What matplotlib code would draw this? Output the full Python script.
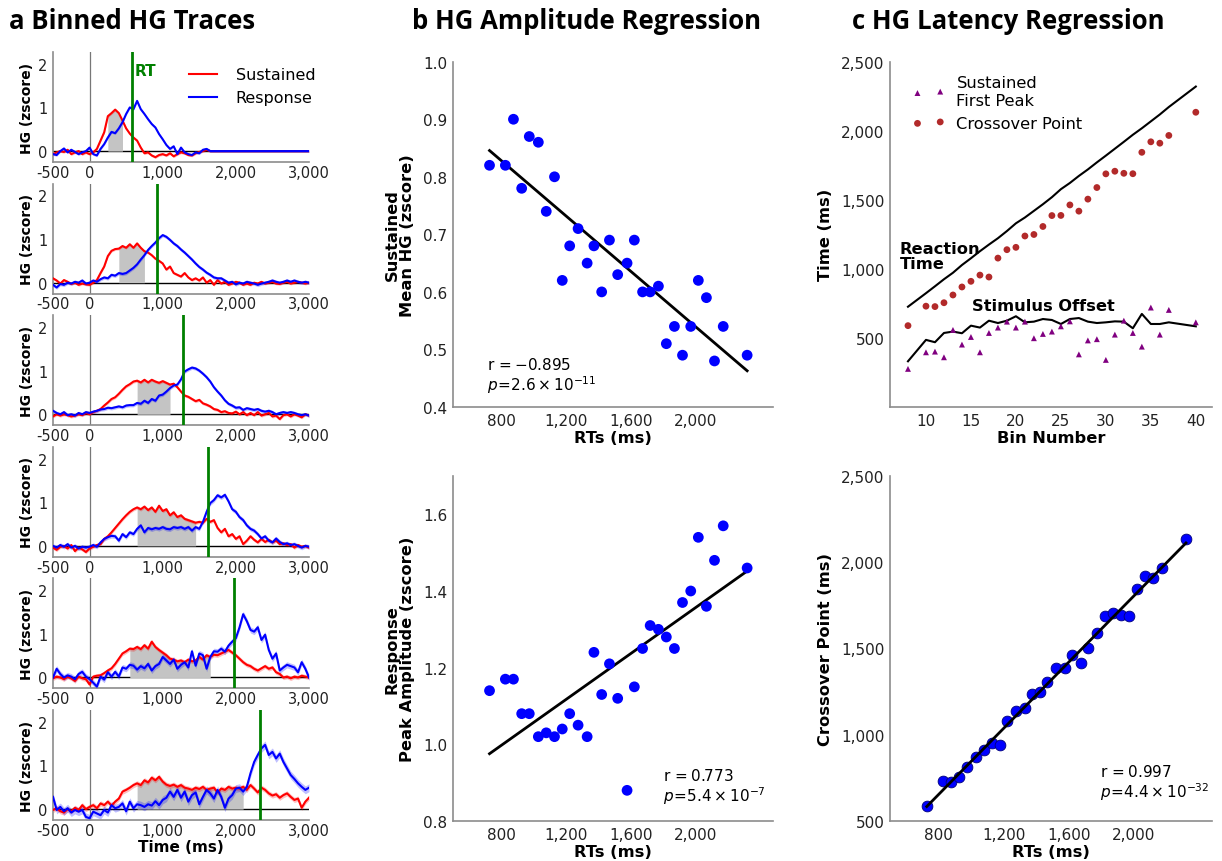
import numpy as np
import matplotlib
matplotlib.use("Agg")
import matplotlib.pyplot as plt
from matplotlib.ticker import FuncFormatter, MultipleLocator

# ---------------- data: panel a (binned HG traces, 50 ms steps) ----------------
t_ms = np.arange(-500, 3001, 50)

sus1 = [-0.07, -0.03, 0.0, -0.02, 0.03, -0.07, -0.03, 0.0, -0.07, -0.03,
        -0.07, -0.03, 0.05, 0.24, 0.43, 0.8, 0.87, 0.95, 0.87, 0.7,
        0.52, 0.4, 0.31, 0.24, 0.08, -0.05, -0.03, -0.1, -0.14, -0.09,
        -0.07, -0.1, -0.05, -0.12, -0.07, -0.03, -0.05, -0.09, -0.1, -0.05,
        -0.02, 0.0, 0.03, 0.0, 0.0, 0.0, 0.0, 0.0, 0.0, 0.0,
        0.0, 0.0, 0.0, 0.0, 0.0, 0.0, 0.0, 0.0, 0.0, 0.0,
        0.0, 0.0, 0.0, 0.0, 0.0, 0.0, 0.0, 0.0, 0.0, 0.0,
        0.0]
resp1 = [-0.07, -0.09, 0.0, 0.06, -0.03, 0.03, -0.02, -0.07, -0.03, 0.0,
         0.08, -0.07, -0.1, 0.05, 0.16, 0.31, 0.44, 0.41, 0.52, 0.66,
         0.85, 1.0, 0.96, 1.15, 0.96, 0.85, 0.73, 0.62, 0.54, 0.39,
         0.27, 0.14, 0.05, 0.11, -0.07, 0.08, -0.03, -0.07, -0.09, -0.03,
         -0.05, 0.03, 0.05, 0.0, 0.0, 0.0, 0.0, 0.0, 0.0, 0.0,
         0.0, 0.0, 0.0, 0.0, 0.0, 0.0, 0.0, 0.0, 0.0, 0.0,
         0.0, 0.0, 0.0, 0.0, 0.0, 0.0, 0.0, 0.0, 0.0, 0.0,
         0.0]
sus2 = [0.1, 0.05, -0.02, 0.06, 0.02, -0.03, 0.0, -0.05, -0.02, -0.04,
        -0.05, 0.0, 0.06, 0.22, 0.37, 0.61, 0.73, 0.77, 0.78, 0.84,
        0.8, 0.88, 0.8, 0.9, 0.8, 0.72, 0.69, 0.63, 0.55, 0.5,
        0.44, 0.3, 0.37, 0.22, 0.18, 0.14, 0.22, 0.12, 0.06, 0.1,
        0.05, 0.12, 0.0, 0.06, -0.05, 0.06, -0.02, 0.02, -0.05, -0.02,
        0.02, 0.0, -0.05, -0.02, -0.05, 0.0, -0.02, 0.02, -0.02, 0.0,
        0.02, -0.02, -0.03, 0.0, 0.02, -0.02, 0.0, 0.02, 0.0, -0.02,
        0.0]
resp2 = [-0.05, -0.11, -0.03, -0.05, 0.0, -0.02, 0.02, 0.0, 0.05, -0.02,
         0.0, 0.05, 0.02, 0.08, 0.12, 0.1, 0.18, 0.16, 0.22, 0.2,
         0.22, 0.28, 0.34, 0.42, 0.53, 0.63, 0.75, 0.84, 0.92, 1.02,
         1.09, 1.05, 0.98, 0.9, 0.84, 0.76, 0.69, 0.61, 0.53, 0.44,
         0.36, 0.3, 0.23, 0.18, 0.12, 0.1, 0.1, 0.05, 0.0, 0.02,
         -0.04, 0.0, -0.02, 0.02, 0.0, -0.02, -0.05, -0.02, 0.0, 0.02,
         0.05, 0.02, 0.0, 0.02, 0.05, 0.02, 0.05, 0.02, 0.0, 0.02,
         0.0]
sus3 = [-0.05, 0.0, -0.03, 0.0, -0.02, -0.05, -0.03, 0.0, -0.02, 0.03,
        0.0, 0.05, 0.08, 0.12, 0.2, 0.27, 0.35, 0.39, 0.47, 0.56,
        0.64, 0.69, 0.75, 0.77, 0.73, 0.79, 0.73, 0.79, 0.75, 0.72,
        0.76, 0.72, 0.68, 0.7, 0.62, 0.52, 0.43, 0.4, 0.35, 0.3,
        0.33, 0.25, 0.22, 0.18, 0.12, 0.1, 0.05, 0.07, 0.03, 0.02,
        0.06, 0.0, 0.05, -0.02, 0.03, -0.02, 0.05, -0.03, 0.0, 0.03,
        -0.05, -0.03, -0.11, -0.02, 0.0, -0.05, 0.0, -0.03, -0.07, 0.0,
        -0.03]
resp3 = [0.08, 0.03, 0.0, 0.05, -0.02, 0.0, -0.03, 0.03, 0.0, 0.05,
         0.03, 0.06, 0.08, 0.11, 0.12, 0.15, 0.14, 0.16, 0.18, 0.16,
         0.2, 0.21, 0.21, 0.26, 0.24, 0.31, 0.26, 0.35, 0.31, 0.43,
         0.45, 0.52, 0.6, 0.66, 0.68, 0.8, 0.98, 1.03, 1.07, 1.05,
         1.0, 0.93, 0.85, 0.75, 0.62, 0.52, 0.43, 0.32, 0.24, 0.2,
         0.15, 0.16, 0.1, 0.14, 0.12, 0.1, 0.12, 0.08, 0.06, 0.08,
         0.05, 0.0, 0.03, 0.05, 0.03, 0.05, 0.03, 0.0, -0.02, 0.0,
         -0.03]
sus4 = [-0.04, -0.09, -0.02, 0.0, -0.06, 0.02, -0.12, -0.04, -0.08, -0.14,
        -0.06, -0.02, 0.02, 0.04, 0.16, 0.22, 0.31, 0.41, 0.51, 0.61,
        0.7, 0.78, 0.84, 0.88, 0.84, 0.9, 0.82, 0.88, 0.78, 0.92,
        0.8, 0.84, 0.7, 0.77, 0.66, 0.7, 0.62, 0.59, 0.56, 0.53,
        0.55, 0.53, 0.62, 0.55, 0.59, 0.41, 0.31, 0.39, 0.22, 0.27,
        0.16, 0.22, 0.04, 0.12, 0.22, 0.14, 0.08, 0.16, 0.09, 0.14,
        0.08, 0.12, 0.04, 0.06, 0.02, 0.04, -0.04, 0.02, -0.02, 0.0,
        -0.04]
resp4 = [0.0, -0.04, 0.02, -0.02, 0.04, -0.04, 0.0, -0.06, -0.02, -0.04,
         -0.02, 0.02, -0.02, 0.08, 0.16, 0.2, 0.23, 0.22, 0.12, 0.27,
         0.2, 0.31, 0.27, 0.39, 0.47, 0.31, 0.41, 0.38, 0.41, 0.39,
         0.43, 0.39, 0.38, 0.43, 0.41, 0.43, 0.39, 0.43, 0.35, 0.43,
         0.39, 0.55, 0.78, 0.98, 1.05, 1.16, 1.11, 1.17, 1.02, 0.84,
         0.78, 0.66, 0.59, 0.47, 0.39, 0.35, 0.27, 0.17, 0.22, 0.12,
         0.08, 0.17, 0.09, 0.04, 0.06, 0.02, 0.04, 0.0, -0.04, 0.0,
         -0.02]
sus5 = [-0.02, 0.02, 0.0, -0.04, 0.02, -0.02, -0.08, 0.02, -0.02, -0.04,
        -0.16, 0.02, 0.04, 0.05, 0.1, 0.16, 0.21, 0.31, 0.43, 0.55,
        0.6, 0.66, 0.65, 0.7, 0.65, 0.74, 0.66, 0.82, 0.7, 0.63,
        0.57, 0.51, 0.43, 0.41, 0.37, 0.39, 0.35, 0.41, 0.37, 0.39,
        0.47, 0.41, 0.51, 0.47, 0.52, 0.51, 0.55, 0.59, 0.63, 0.57,
        0.51, 0.43, 0.35, 0.29, 0.26, 0.2, 0.16, 0.21, 0.26, 0.2,
        0.23, 0.12, 0.08, 0.0, 0.02, -0.02, 0.02, 0.0, 0.04, 0.02,
        0.0]
resp5 = [0.0, 0.2, 0.08, 0.0, 0.05, 0.02, -0.04, 0.08, 0.13, 0.02,
         -0.04, -0.12, -0.21, 0.02, -0.05, 0.12, 0.02, 0.13, 0.02, 0.23,
         0.2, 0.29, 0.27, 0.18, 0.26, 0.21, 0.31, 0.16, 0.26, 0.31,
         0.47, 0.39, 0.31, 0.41, 0.2, 0.29, 0.35, 0.23, 0.6, 0.27,
         0.55, 0.51, 0.2, 0.47, 0.6, 0.59, 0.66, 0.59, 0.73, 0.82,
         0.9, 1.15, 1.45, 1.29, 1.09, 1.05, 1.15, 0.86, 0.98, 0.63,
         0.43, 0.55, 0.16, 0.23, 0.29, 0.26, 0.23, 0.12, 0.35, 0.2,
         0.0]
sus6 = [-0.02, 0.02, -0.05, -0.08, 0.0, -0.05, 0.03, -0.02, 0.09, 0.0,
        0.05, 0.09, 0.02, 0.13, 0.09, 0.17, 0.08, 0.17, 0.24, 0.4,
        0.44, 0.49, 0.55, 0.59, 0.55, 0.66, 0.61, 0.72, 0.66, 0.74,
        0.63, 0.56, 0.53, 0.56, 0.51, 0.55, 0.49, 0.47, 0.44, 0.49,
        0.46, 0.51, 0.44, 0.47, 0.49, 0.38, 0.47, 0.44, 0.51, 0.47,
        0.49, 0.47, 0.51, 0.44, 0.55, 0.47, 0.38, 0.49, 0.44, 0.36,
        0.31, 0.34, 0.26, 0.32, 0.36, 0.28, 0.21, 0.24, 0.03, 0.17,
        0.26]
resp6 = [0.28, -0.02, 0.05, -0.05, 0.02, -0.08, -0.02, -0.06, -0.02, -0.18,
         -0.21, -0.06, -0.1, -0.14, -0.02, -0.08, 0.09, 0.02, 0.05, 0.13,
         -0.05, 0.17, 0.02, 0.11, 0.09, 0.05, 0.11, 0.08, 0.18, 0.09,
         0.21, 0.26, 0.4, 0.28, 0.44, 0.26, 0.4, 0.17, 0.32, 0.38,
         0.11, 0.28, 0.44, 0.36, 0.24, 0.44, 0.28, 0.03, 0.24, 0.32,
         0.47, 0.49, 0.4, 0.51, 0.82, 1.08, 1.24, 1.39, 1.47, 1.24,
         1.31, 1.16, 1.27, 1.08, 0.93, 0.78, 0.69, 0.59, 0.51, 0.44,
         0.49]

sustained_traces = [sus1, sus2, sus3, sus4, sus5, sus6]
response_traces = [resp1, resp2, resp3, resp4, resp5, resp6]
sus_sem = [0.03, 0.03, 0.035, 0.04, 0.05, 0.06]
resp_sem = [0.03, 0.04, 0.04, 0.05, 0.07, 0.09]
bin_rt = [579, 920, 1280, 1625, 1980, 2326]
shade_start = [250, 375, 625, 625, 550, 625]
shade_end = [450, 760, 1140, 1465, 1690, 2135]

# ---------------- data: panels b and c (30 RT bins) ----------------
bin_number = [8, 10, 11, 12, 13, 14, 15, 16, 17, 18, 19, 20, 21, 22, 23,
              24, 25, 26, 27, 28, 29, 30, 31, 32, 33, 34, 35, 36, 37, 40]
rts = [726, 824, 874, 925, 972, 1028, 1077, 1128, 1176, 1222, 1274, 1330, 1372, 1420, 1468,
       1519, 1577, 1622, 1673, 1720, 1771, 1820, 1870, 1920, 1971, 2018, 2068, 2118, 2172, 2320]
sustained_mean = [0.82, 0.82, 0.90, 0.78, 0.87, 0.86, 0.74, 0.80, 0.62, 0.68, 0.71, 0.65, 0.68, 0.60, 0.69,
                  0.63, 0.65, 0.69, 0.60, 0.60, 0.61, 0.51, 0.54, 0.49, 0.54, 0.62, 0.59, 0.48, 0.54, 0.49]
response_peak = [1.14, 1.17, 1.17, 1.08, 1.08, 1.02, 1.03, 1.02, 1.04, 1.08, 1.05, 1.02, 1.24, 1.13, 1.21,
                 1.12, 0.88, 1.15, 1.25, 1.31, 1.30, 1.28, 1.25, 1.37, 1.40, 1.54, 1.36, 1.48, 1.57, 1.46]
crossover = [589, 730, 727, 755, 811, 869, 910, 955, 941, 1078, 1139, 1156, 1238, 1249, 1307,
             1386, 1387, 1463, 1418, 1505, 1589, 1688, 1707, 1692, 1689, 1844, 1920, 1910, 1966, 2134]
first_peak = [276, 396, 401, 360, 558, 452, 507, 396, 536, 575, 618, 575, 618, 498, 529,
              546, 584, 620, 381, 482, 491, 341, 524, 625, 536, 437, 720, 524, 703, 613]
stim_offset = [331, 486, 469, 536, 546, 534, 589, 575, 625, 608, 625, 657, 613, 618, 637,
               630, 601, 637, 644, 618, 608, 613, 620, 618, 570, 674, 601, 601, 613, 584]

# ---------------- figure setup ----------------
W, H = 1222, 862
fig = plt.figure(figsize=(W / 100, H / 100), dpi=100)
spine_gray = "#8c8c8c"
label_size = 11.7
comma_fmt = FuncFormatter(lambda v, pos: f"{int(round(v)):,}")


def px_axes(left, top, right, bottom):
    # axes placed by pixel edges of the reference image
    return fig.add_axes([left / W, 1 - bottom / H, (right - left) / W, (bottom - top) / H])


def clean_axes(ax, size):
    for side in ["top", "right"]:
        ax.spines[side].set_visible(False)
    for side in ["left", "bottom"]:
        ax.spines[side].set_color(spine_gray)
        ax.spines[side].set_linewidth(1.2)
    ax.tick_params(length=0, pad=4, labelsize=size, colors="#222222")


# ---------------- panel a ----------------
for i in range(6):
    top = 53 + 131.6 * i
    ax = px_axes(53, top, 309, top + 110)
    sus = np.array(sustained_traces[i])
    resp = np.array(response_traces[i])

    ax.axhline(0, color="black", lw=1.0, zorder=1)
    ax.axvline(0, color="#777777", lw=0.9, zorder=1)
    mask = (t_ms >= shade_start[i]) & (t_ms <= shade_end[i])
    ax.fill_between(t_ms, 0, sus, where=mask, color="#c4c4c4", lw=0, zorder=1.5)

    ax.fill_between(t_ms, sus - sus_sem[i], sus + sus_sem[i], color="#ff0000", alpha=0.25, lw=0, zorder=2)
    ax.fill_between(t_ms, resp - resp_sem[i], resp + resp_sem[i], color="#0000ff", alpha=0.25, lw=0, zorder=2)
    ax.plot(t_ms, sus, color="#ff0000", lw=1.5, label="Sustained", zorder=3)
    ax.plot(t_ms, resp, color="#0000ff", lw=1.5, label="Response", zorder=3)
    ax.axvline(bin_rt[i], color="#008000", lw=2.0, zorder=4)

    ax.set_xlim(-500, 3000)
    ax.set_ylim(-0.25, 2.27)
    ax.set_xticks([-500, 0, 1000, 2000, 3000])
    ax.set_yticks([0, 1, 2])
    ax.xaxis.set_major_formatter(comma_fmt)
    clean_axes(ax, 10.5)
    ax.tick_params(axis="x", pad=2)
    ax.set_ylabel("HG (zscore)", fontsize=10, fontweight="bold", labelpad=3)

    if i == 0:
        ax.text(bin_rt[i] + 40, 1.85, "RT", color="#008000", fontsize=11,
                fontweight="bold", va="center")
        ax.legend(loc="upper right", bbox_to_anchor=(1.05, 0.92), frameon=False,
                  fontsize=11.5, handlelength=1.7, handletextpad=1.2, labelspacing=0.5,
                  borderaxespad=0)
    if i == 5:
        ax.set_xlabel("Time (ms)", fontsize=11, fontweight="bold", labelpad=1)

# ---------------- panel b ----------------
ax_b1 = px_axes(453, 62.7, 773, 408)
ax_b1.scatter(rts, sustained_mean, s=60, color="#0000ff", edgecolors="none", zorder=3)
k, b0 = np.polyfit(rts, sustained_mean, 1)
xx = np.array([min(rts), max(rts)])
ax_b1.plot(xx, k * xx + b0, color="black", lw=2)
ax_b1.set_xlim(500, 2480)
ax_b1.set_ylim(0.4, 1.0)
ax_b1.set_xticks([800, 1200, 1600, 2000])
ax_b1.xaxis.set_major_formatter(comma_fmt)
ax_b1.yaxis.set_major_locator(MultipleLocator(0.1))
ax_b1.yaxis.set_major_formatter(FuncFormatter(lambda v, pos: f"{v:.1f}"))
clean_axes(ax_b1, 11)
ax_b1.set_xlabel("RTs (ms)", fontsize=label_size, fontweight="bold", labelpad=2)
ax_b1.set_ylabel("Sustained\nMean HG (zscore)", fontsize=label_size, fontweight="bold",
                 labelpad=6, linespacing=1.0)
ax_b1.text(710, 0.455, "r$\\,=-0.895$\n$p\\!=\\!2.6\\times10^{-11}$", fontsize=11,
           va="center", linespacing=1.1)

ax_b2 = px_axes(453, 477, 773, 822)
ax_b2.scatter(rts, response_peak, s=60, color="#0000ff", edgecolors="none", zorder=3)
k, b0 = np.polyfit(rts, response_peak, 1)
ax_b2.plot(xx, k * xx + b0, color="black", lw=2)
ax_b2.set_xlim(500, 2480)
ax_b2.set_ylim(0.8, 1.7)
ax_b2.set_xticks([800, 1200, 1600, 2000])
ax_b2.set_yticks([0.8, 1.0, 1.2, 1.4, 1.6])
ax_b2.xaxis.set_major_formatter(comma_fmt)
ax_b2.yaxis.set_major_formatter(FuncFormatter(lambda v, pos: f"{v:.1f}"))
clean_axes(ax_b2, 11)
ax_b2.set_xlabel("RTs (ms)", fontsize=label_size, fontweight="bold", labelpad=2)
ax_b2.set_ylabel("Response\nPeak Amplitude (zscore)", fontsize=label_size, fontweight="bold",
                 labelpad=6, linespacing=1.0)
ax_b2.text(1797, 0.89, "r$\\,=0.773$\n$p\\!=\\!5.4\\times10^{-7}$", fontsize=11,
           va="center", linespacing=1.1)

# ---------------- panel c ----------------
ax_c1 = px_axes(890, 62.7, 1212, 408)
ax_c1.plot(bin_number, rts, color="black", lw=1.5)
ax_c1.plot(bin_number, stim_offset, color="black", lw=1.5)
ax_c1.scatter(bin_number, first_peak, s=18, marker="^", color="#800080",
              edgecolors="none", label="Sustained\nFirst Peak", zorder=3)
ax_c1.scatter(bin_number, crossover, s=24, marker="o", color="#b22a2a",
              edgecolors="none", label="Crossover Point", zorder=3)
ax_c1.set_xlim(6, 41.8)
ax_c1.set_ylim(0, 2500)
ax_c1.set_xticks([10, 15, 20, 25, 30, 35, 40])
ax_c1.set_yticks([500, 1000, 1500, 2000, 2500])
ax_c1.yaxis.set_major_formatter(comma_fmt)
clean_axes(ax_c1, 11)
ax_c1.set_xlabel("Bin Number", fontsize=label_size, fontweight="bold", labelpad=2)
ax_c1.set_ylabel("Time (ms)", fontsize=label_size, fontweight="bold", labelpad=6)
ax_c1.legend(loc="upper left", bbox_to_anchor=(0.05, 0.98), frameon=False, fontsize=label_size,
             scatterpoints=2, handlelength=2.0, handletextpad=0.7, labelspacing=0.5,
             borderaxespad=0)
ax_c1.text(7.1, 1090, "Reaction\nTime", fontsize=label_size, fontweight="bold", va="center",
           linespacing=1.0)
ax_c1.text(15.1, 735, "Stimulus Offset", fontsize=label_size, fontweight="bold", va="center")

ax_c2 = px_axes(890, 477, 1212, 822)
ax_c2.scatter(rts, crossover, s=60, color="#0000ff", edgecolors="#00007a",
              linewidths=0.6, zorder=3)
k, b0 = np.polyfit(rts, crossover, 1)
ax_c2.plot(xx, k * xx + b0, color="black", lw=2, zorder=4)
ax_c2.set_xlim(500, 2480)
ax_c2.set_ylim(500, 2500)
ax_c2.set_xticks([800, 1200, 1600, 2000])
ax_c2.set_yticks([500, 1000, 1500, 2000, 2500])
ax_c2.xaxis.set_major_formatter(comma_fmt)
ax_c2.yaxis.set_major_formatter(comma_fmt)
clean_axes(ax_c2, 11)
ax_c2.set_xlabel("RTs (ms)", fontsize=label_size, fontweight="bold", labelpad=2)
ax_c2.set_ylabel("Crossover Point (ms)", fontsize=label_size, fontweight="bold", labelpad=6)
ax_c2.text(1790, 725, "r$\\,=0.997$\n$p\\!=\\!4.4\\times10^{-32}$", fontsize=11,
           va="center", linespacing=1.1)

# ---------------- panel titles ----------------
title_font = dict(fontsize=18.5, fontweight="bold", family="Open Sans", va="baseline")
fig.text(9 / W, 1 - 29 / H, "a Binned HG Traces", **title_font)
fig.text(412 / W, 1 - 29 / H, "b HG Amplitude Regression", **title_font)
fig.text(852 / W, 1 - 29 / H, "c HG Latency Regression", **title_font)

fig.savefig("out.png", dpi=100)
